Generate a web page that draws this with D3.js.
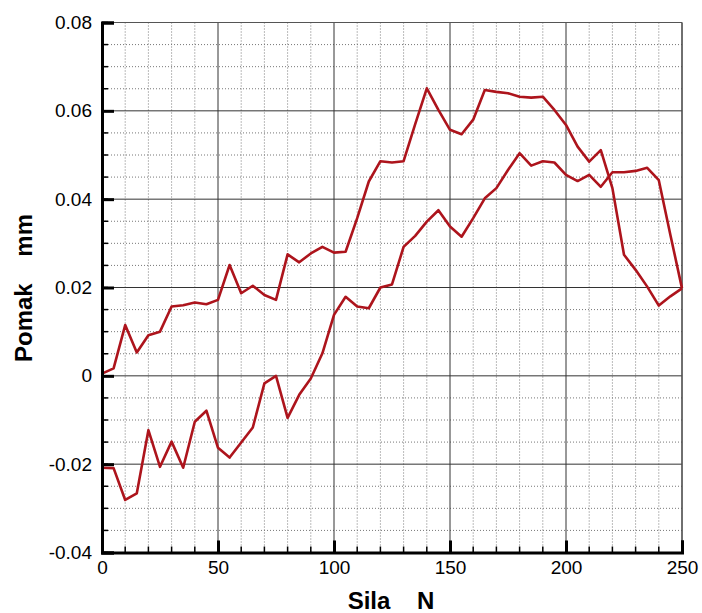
<!DOCTYPE html>
<html><head><meta charset="utf-8">
<script src="https://cdn.jsdelivr.net/npm/d3@7"></script>
<style>body{margin:0;background:#fff}svg{display:block}</style>
</head><body>
<script>
const forceN = [0,5,10,15,20,25,30,35,40,45,50,55,60,65,70,75,80,85,90,95,100,105,110,115,120,125,130,135,140,145,150,155,160,165,170,175,180,185,190,195,200,205,210,215,220,225,230,235,240,245,250];
const upperCurve = [0.0005,0.0017,0.0115,0.0053,0.0092,0.0100,0.0157,0.0160,0.0166,0.0162,0.0172,0.0251,0.0187,0.0204,0.0183,0.0172,0.0275,0.0257,0.0277,0.0292,0.0279,0.0281,0.0357,0.0440,0.0486,0.0483,0.0486,0.0570,0.0651,0.0602,0.0557,0.0547,0.0580,0.0647,0.0643,0.0640,0.0632,0.0630,0.0632,0.0602,0.0568,0.0519,0.0485,0.0511,0.0425,0.0274,0.0240,0.0202,0.0159,0.0180,0.0198];
const lowerCurve = [-0.0208,-0.0209,-0.0281,-0.0266,-0.0123,-0.0206,-0.0149,-0.0208,-0.0104,-0.0079,-0.0163,-0.0185,-0.0151,-0.0117,-0.0017,0.0000,-0.0095,-0.0043,-0.0006,0.0051,0.0138,0.0179,0.0157,0.0153,0.0200,0.0207,0.0292,0.0317,0.0349,0.0375,0.0338,0.0315,0.0357,0.0402,0.0425,0.0466,0.0504,0.0476,0.0486,0.0483,0.0455,0.0441,0.0455,0.0428,0.0461,0.0461,0.0464,0.0471,0.0443,0.0319,0.0198];
const xTicks = [0,50,100,150,200,250];
const yTicks = [-0.04,-0.02,0,0.02,0.04,0.06,0.08];
const yTickLabels = ["-0.04","-0.02","0","0.02","0.04","0.06","0.08"];
const xTitle = "Sila    N";
const yTitle = "Pomak    mm";

const W = 702, H = 613;
const L = 102, R = 682, T = 22.5, B = 552.5;
const svg = d3.select("body").append("svg").attr("width", W).attr("height", H);
const x = d3.scaleLinear().domain([0,250]).range([L,R]);
const y = d3.scaleLinear().domain([-0.04,0.08]).range([B,T]);

const minorX = d3.range(0,251,10);
const minorY = d3.range(-0.04,0.0801,0.005);
const g = svg.append("g");
// minor grid
g.selectAll(".mx").data(minorX.filter(v=>v%50!==0)).enter().append("line")
 .attr("x1",d=>x(d)).attr("x2",d=>x(d)).attr("y1",T).attr("y2",B)
 .attr("stroke","#777").attr("stroke-width",1).attr("stroke-dasharray","1,2");
g.selectAll(".my").data(minorY.filter(v=>Math.abs(Math.round(v*1000)%20)!==0)).enter().append("line")
 .attr("y1",d=>y(d)).attr("y2",d=>y(d)).attr("x1",L).attr("x2",R)
 .attr("stroke","#777").attr("stroke-width",1).attr("stroke-dasharray","1,2");
// major grid
g.selectAll(".Mx").data(xTicks).enter().append("line")
 .attr("x1",d=>x(d)).attr("x2",d=>x(d)).attr("y1",T).attr("y2",B)
 .attr("stroke","#333").attr("stroke-width",1);
g.selectAll(".My").data(yTicks).enter().append("line")
 .attr("y1",d=>y(d)).attr("y2",d=>y(d)).attr("x1",L).attr("x2",R)
 .attr("stroke","#333").attr("stroke-width",1);
// frame top/right
svg.append("line").attr("x1",L).attr("x2",R).attr("y1",T).attr("y2",T).attr("stroke","#555").attr("stroke-width",1.2);
svg.append("line").attr("x1",R).attr("x2",R).attr("y1",T).attr("y2",B).attr("stroke","#555").attr("stroke-width",1.2);

// curves
const line = d3.line().x((d,i)=>x(forceN[i])).y(d=>y(d));
[upperCurve, lowerCurve].forEach(s=>{
  svg.append("path").attr("d",line(s)).attr("fill","none")
   .attr("stroke","#ad141c").attr("stroke-width",2.6).attr("stroke-linejoin","round");
});

// axes
const fontF = "'Liberation Sans', Arial, sans-serif";
const ya = d3.axisLeft(y).tickValues(yTicks).tickFormat((d,i)=>yTickLabels[i]).tickSize(-12).tickPadding(10);
const yg = svg.append("g").attr("transform",`translate(${L},0)`).call(ya);
yg.select(".domain").attr("stroke","#000").attr("stroke-width",3);
yg.selectAll(".tick line").attr("stroke","#000").attr("stroke-width",3);
yg.selectAll("text").attr("font-family",fontF).attr("font-size",19).attr("fill","#000");
yg.selectAll(".minor").data(minorY).enter().append("line").attr("class","minor")
 .attr("x1",0).attr("x2",6).attr("y1",d=>y(d)).attr("y2",d=>y(d)).attr("stroke","#000").attr("stroke-width",1.5);

const xa = d3.axisBottom(x).tickValues(xTicks).tickSize(-12).tickPadding(8);
const xg = svg.append("g").attr("transform",`translate(0,${B})`).call(xa);
xg.select(".domain").attr("stroke","#000").attr("stroke-width",3);
xg.selectAll(".tick line").attr("stroke","#000").attr("stroke-width",3);
xg.selectAll("text").attr("font-family",fontF).attr("font-size",19).attr("fill","#000");
xg.selectAll(".minor").data(minorX).enter().append("line").attr("class","minor")
 .attr("y1",0).attr("y2",-6).attr("x1",d=>x(d)).attr("x2",d=>x(d)).attr("stroke","#000").attr("stroke-width",1.5);

svg.append("text").attr("x",391).attr("y",609).attr("text-anchor","middle")
 .attr("font-family",fontF).attr("font-weight","bold").attr("font-size",24).style("white-space","pre").text(xTitle);
svg.append("text").attr("transform","translate(32,288) rotate(-90)").attr("text-anchor","middle")
 .attr("font-family",fontF).attr("font-weight","bold").attr("font-size",24).style("white-space","pre").text(yTitle);
</script>
</body></html>
